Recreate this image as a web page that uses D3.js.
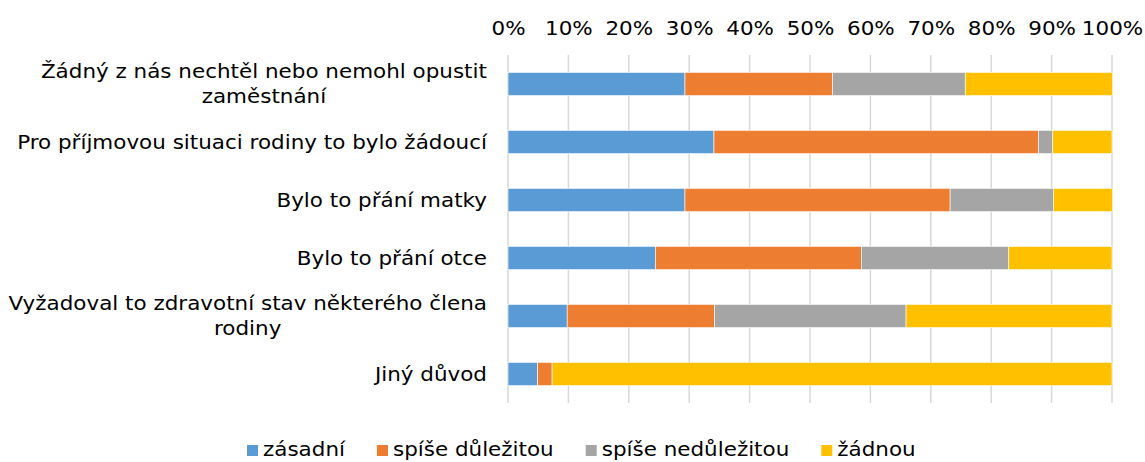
<!DOCTYPE html>
<html>
<head>
<meta charset="utf-8">
<script src="https://cdn.jsdelivr.net/npm/d3@7"></script>
<style>
  body { margin: 0; background: #fff; }
  svg { display: block; font-family: "DejaVu Sans", Verdana, sans-serif; }
</style>
</head>
<body>
<svg id="chart" width="1145" height="462"></svg>
<script>
// categories, top to bottom
const categories = [
  'Žádný z nás nechtěl nebo nemohl opustit zaměstnání',
  'Pro příjmovou situaci rodiny to bylo žádoucí',
  'Bylo to přání matky',
  'Bylo to přání otce',
  'Vyžadoval to zdravotní stav některého člena rodiny',
  'Jiný důvod'
];
const seriesNames = ['zásadní', 'spíše důležitou', 'spíše nedůležitou', 'žádnou'];
const colors = ['#5b9bd5', '#ed7d31', '#a5a5a5', '#ffc000'];

// percent values per series (same order as categories)
const zasadni      = [29.3, 34.1, 29.3, 24.4,  9.8,  4.9];
const spiseDulez   = [24.4, 53.7, 43.9, 34.1, 24.4,  2.4];
const spiseNedulez = [22.0,  2.4, 17.1, 24.4, 31.7,  0.0];
const zadnou       = [24.4,  9.8,  9.8, 17.1, 34.1, 92.7];

const tickValues = [0, 10, 20, 30, 40, 50, 60, 70, 80, 90, 100];

const FS = 19;      // font size
const SX = 1.13;    // horizontal stretch, DejaVu is narrower than Verdana
const plot = { left: 508, right: 1112, top: 55, bottom: 403 };

const svg = d3.select('#chart');

const x = d3.scaleLinear().domain([0, 100]).range([plot.left, plot.right]);
const y = d3.scaleBand().domain(categories).range([plot.top, plot.bottom])
  .paddingInner(0.6).paddingOuter(0.3);

// table for stacking
const table = categories.map((c, i) => ({
  cat: c,
  s0: zasadni[i], s1: spiseDulez[i], s2: spiseNedulez[i], s3: zadnou[i]
}));
const stack = d3.stack().keys(['s0', 's1', 's2', 's3'])(table);

// gridlines
svg.append('g')
  .selectAll('line')
  .data(tickValues)
  .join('line')
  .attr('x1', d => x(d)).attr('x2', d => x(d))
  .attr('y1', plot.top).attr('y2', plot.bottom)
  .attr('stroke', '#d9d9d9')
  .attr('stroke-width', 1.5);

// top axis labels
const axis = svg.append('g')
  .attr('transform', 'translate(0,35)')
  .call(d3.axisTop(x).tickValues(tickValues).tickFormat(d => d + '%').tickSize(0).tickPadding(0));
axis.select('.domain').remove();
axis.selectAll('text')
  .attr('font-family', '"DejaVu Sans", Verdana, sans-serif')
  .attr('font-size', FS)
  .attr('fill', '#000')
  .attr('transform', `scale(${SX},1)`);

// bars
svg.append('g')
  .selectAll('g')
  .data(stack)
  .join('g')
  .attr('fill', (d, i) => colors[i])
  .selectAll('rect')
  .data(d => d)
  .join('rect')
  .attr('x', d => x(d[0]))
  .attr('width', d => Math.max(0, x(d[1]) - x(d[0])))
  .attr('y', d => y(d.data.cat))
  .attr('height', y.bandwidth())
  .attr('stroke', '#fff')
  .attr('stroke-width', 0.6);

// category labels, wrapped and centred inside a right-aligned block
const labelG = svg.append('g');
const maxW = 480;
const lineH = 25;
categories.forEach(cat => {
  const words = cat.split(' ');
  const probe = labelG.append('text').attr('font-size', FS);
  const len = s => { probe.text(s); return probe.node().getComputedTextLength() * SX; };
  const lines = [];
  let cur = [];
  words.forEach(w => {
    if (cur.length && len(cur.concat(w).join(' ')) > maxW) {
      lines.push(cur.join(' '));
      cur = [w];
    } else {
      cur.push(w);
    }
  });
  lines.push(cur.join(' '));
  const blockW = d3.max(lines, len);
  probe.remove();

  const right = plot.left - 21;
  const cx = right - blockW / 2;
  const cy = y(cat) + y.bandwidth() / 2;
  const y0 = cy - (lines.length - 1) * lineH / 2;
  const t = labelG.append('text')
    .attr('transform', `translate(${cx},0) scale(${SX},1)`)
    .attr('font-size', FS)
    .attr('fill', '#000')
    .attr('text-anchor', 'middle');
  lines.forEach((l, i) => {
    t.append('tspan')
      .attr('x', 0)
      .attr('y', y0 + i * lineH)
      .attr('dy', '0.35em')
      .text(l);
  });
});

// legend
const legend = svg.append('g');
const sw = 11, gapText = 5, gapItem = 32;
let lx = 0;
seriesNames.forEach((name, i) => {
  const g = legend.append('g').attr('transform', `translate(${lx},0)`);
  g.append('rect').attr('width', sw).attr('height', sw).attr('y', -11).attr('fill', colors[i]);
  const tx = g.append('text')
    .attr('transform', `translate(${sw + gapText},0) scale(${SX},1)`)
    .attr('font-size', FS)
    .attr('fill', '#000')
    .text(name);
  lx += sw + gapText + tx.node().getComputedTextLength() * SX + gapItem;
});
legend.attr('transform', 'translate(247,456)');
</script>
</body>
</html>
